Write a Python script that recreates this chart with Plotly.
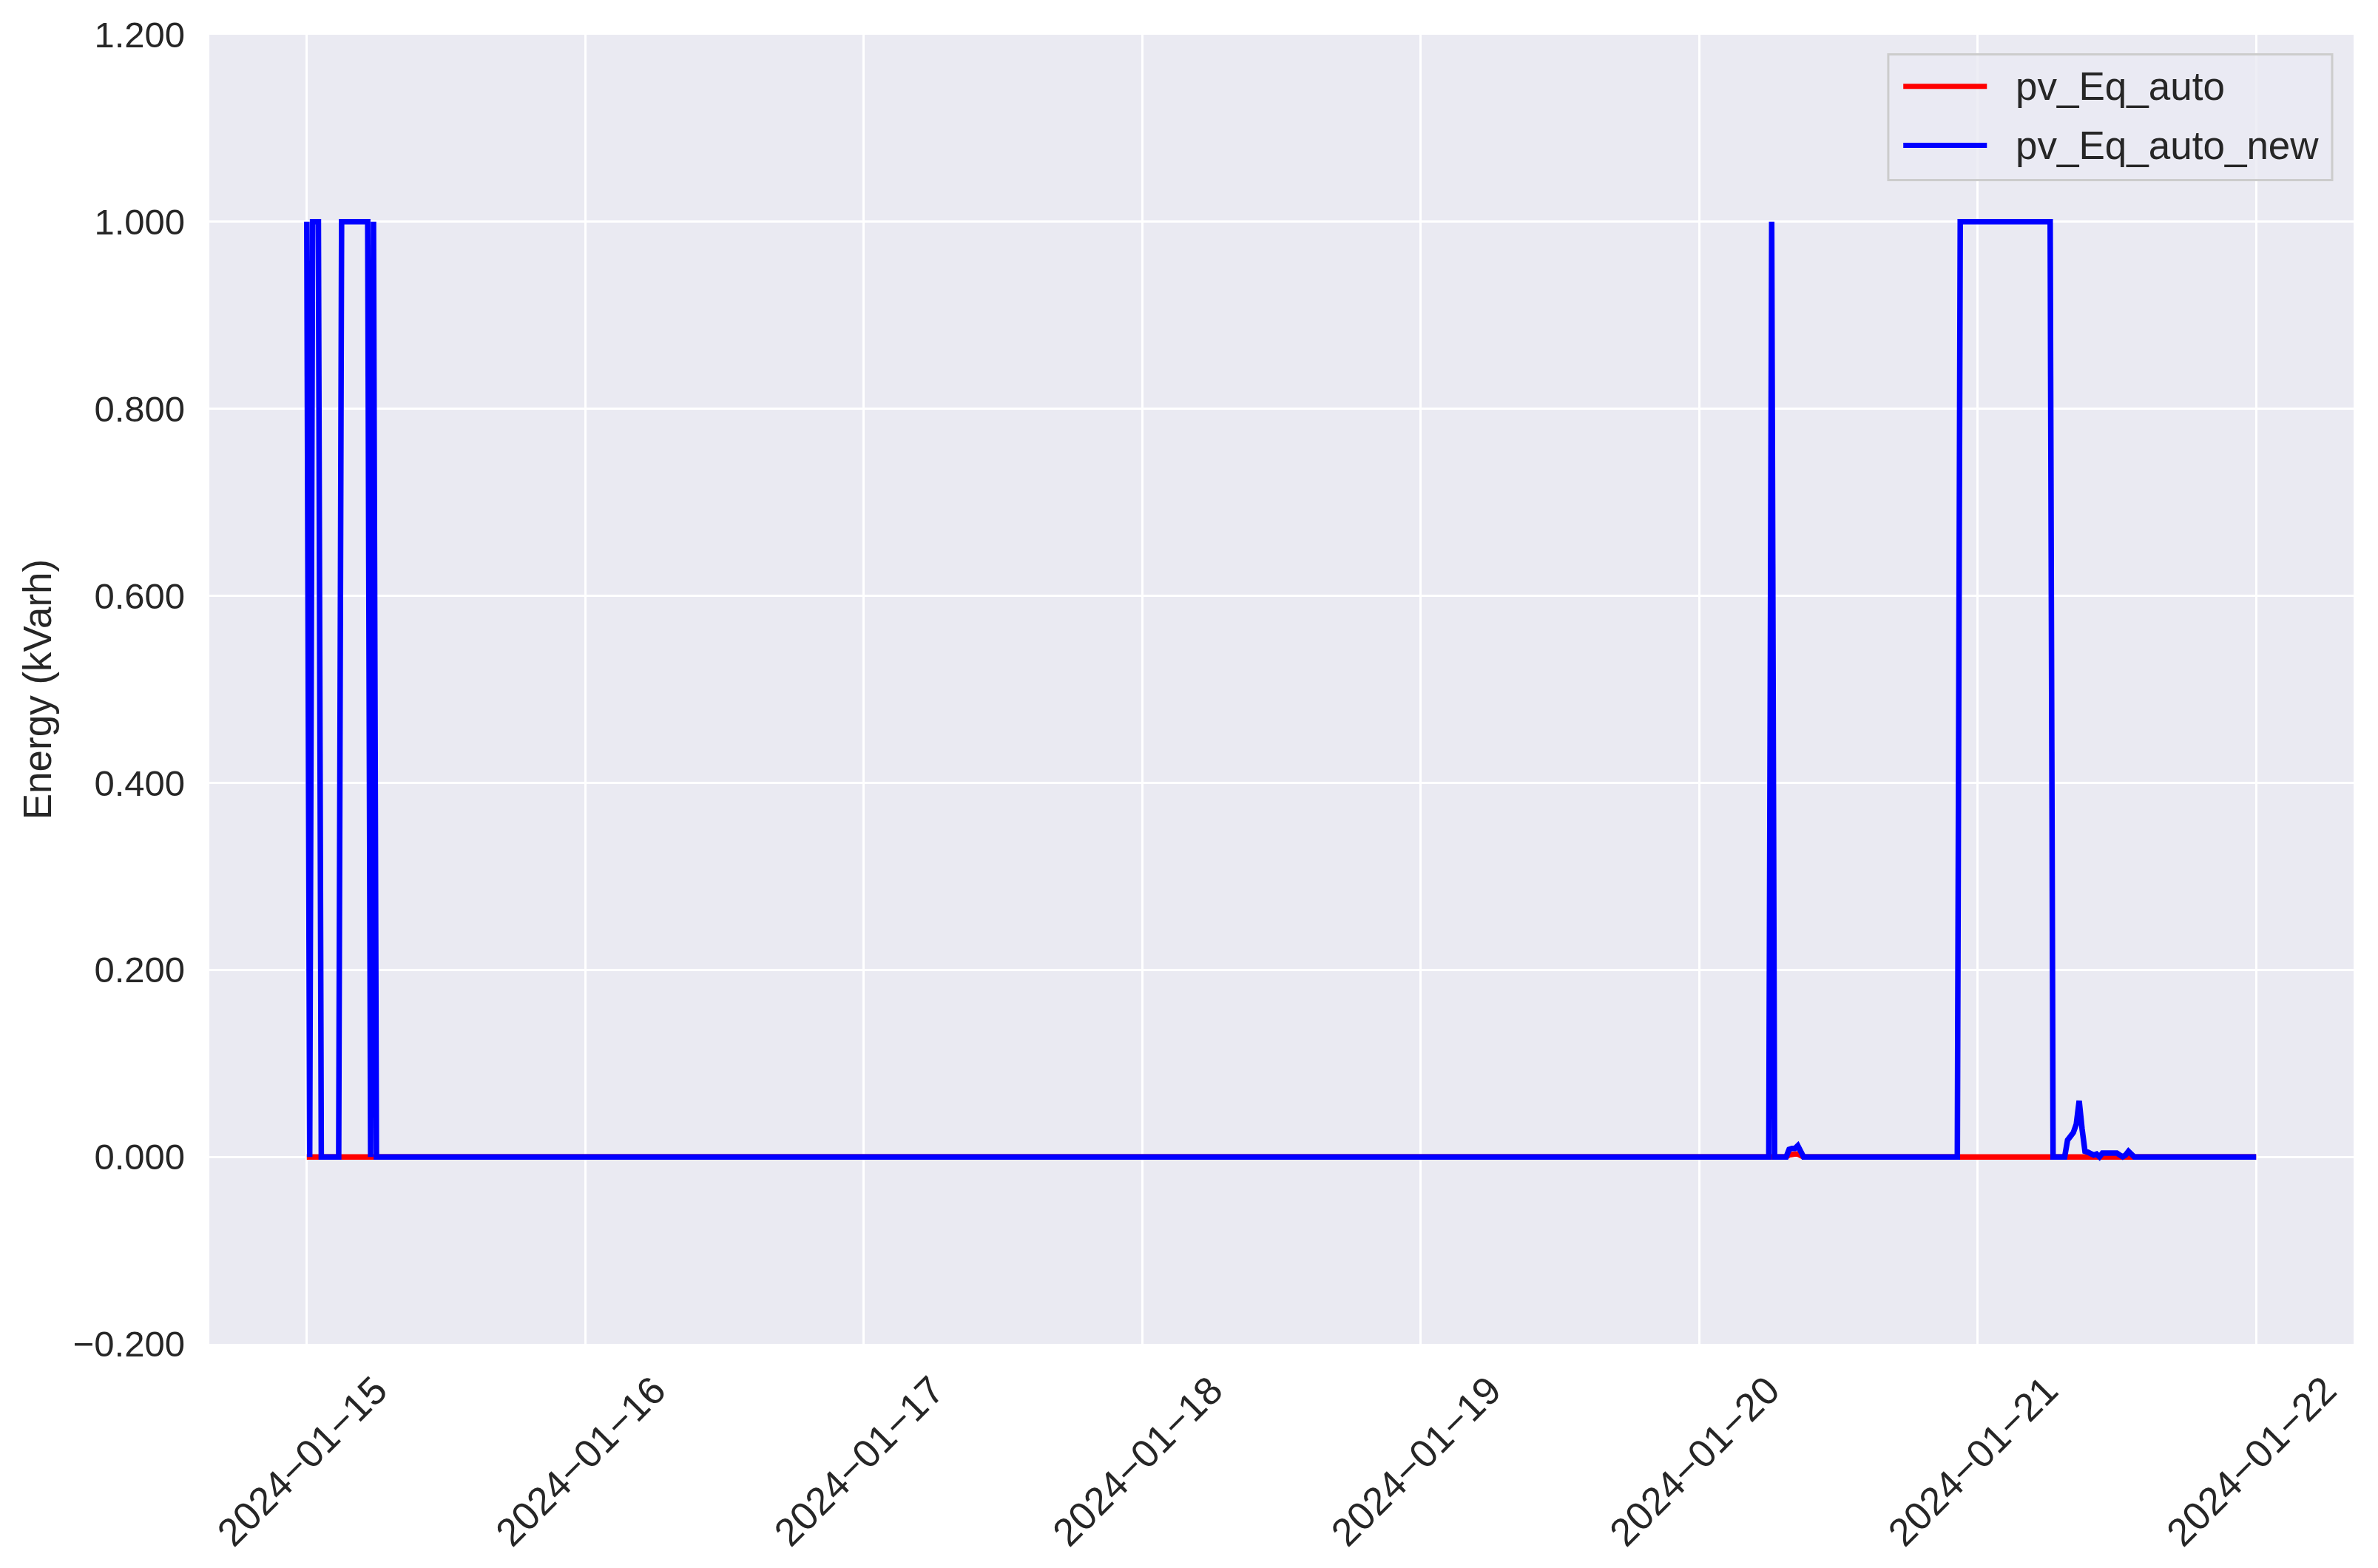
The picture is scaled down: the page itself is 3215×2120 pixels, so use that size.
'''
PV reactive energy plot: pv_Eq_auto vs pv_Eq_auto_new
'''
import plotly.graph_objects as go

'''----------------------------- Data ----------------------------'''

# blue series (pv_Eq_auto_new): breakpoints, linear between
new_times = [
    "2024-01-15 00:00", "2024-01-15 00:15", "2024-01-15 00:30", "2024-01-15 01:00",
    "2024-01-15 01:15", "2024-01-15 02:45", "2024-01-15 03:00", "2024-01-15 05:15",
    "2024-01-15 05:30", "2024-01-15 05:45", "2024-01-15 06:00",
    "2024-01-20 06:00", "2024-01-20 06:15", "2024-01-20 06:30", "2024-01-20 07:30",
    "2024-01-20 07:45", "2024-01-20 08:00", "2024-01-20 08:15", "2024-01-20 08:30",
    "2024-01-20 08:45", "2024-01-20 09:00",
    "2024-01-20 22:15", "2024-01-20 22:30", "2024-01-21 06:15", "2024-01-21 06:30",
    "2024-01-21 07:30", "2024-01-21 07:45", "2024-01-21 08:00", "2024-01-21 08:15",
    "2024-01-21 08:30", "2024-01-21 08:45", "2024-01-21 09:00", "2024-01-21 09:15",
    "2024-01-21 09:30", "2024-01-21 09:45", "2024-01-21 10:00", "2024-01-21 10:15",
    "2024-01-21 10:30", "2024-01-21 10:45", "2024-01-21 11:00", "2024-01-21 11:15",
    "2024-01-21 11:30", "2024-01-21 11:45", "2024-01-21 12:00", "2024-01-21 12:15",
    "2024-01-21 12:30", "2024-01-21 12:45", "2024-01-21 13:00", "2024-01-21 13:15",
    "2024-01-21 13:30",
    "2024-01-22 00:00",
]
new_vals = [
    1, 0, 1, 1,
    0, 0, 1, 1,
    0, 1, 0,
    0, 1, 0, 0,
    0.008, 0.009, 0.009, 0.012,
    0.004, 0,
    0, 1, 1, 0,
    0, 0.018, 0.022, 0.026,
    0.035, 0.060, 0.030, 0.006,
    0.005, 0.004, 0.002, 0.003,
    0.0, 0.004, 0.004, 0.004,
    0.005, 0.004, 0.004, 0.002,
    0.0, 0.002, 0.006, 0.003,
    0.0,
    0,
]

# red series (pv_Eq_auto)
auto_times = [
    "2024-01-15 00:00", "2024-01-20 07:30", "2024-01-20 07:45", "2024-01-20 08:00",
    "2024-01-20 08:15", "2024-01-20 08:30", "2024-01-20 08:45", "2024-01-20 09:00",
    "2024-01-22 00:00",
]
auto_vals = [0, 0, 0.002, 0.003, 0.003, 0.003, 0.001, 0, 0]

x_tickvals = ["2024-01-15", "2024-01-16", "2024-01-17", "2024-01-18",
              "2024-01-19", "2024-01-20", "2024-01-21", "2024-01-22"]
x_ticktext = [d.replace("-", "\u2212") for d in x_tickvals]
y_tickvals = [-0.2, 0.0, 0.2, 0.4, 0.6, 0.8, 1.0, 1.2]

series_names = ["pv_Eq_auto", "pv_Eq_auto_new"]
series_colors = ["#ff0000", "#0000ff"]

'''----------------------------- Figure ----------------------------'''

FONT = "Liberation Sans, Arial, sans-serif"
TEXT = "#262626"

fig = go.Figure()
for name, color, xs, ys in zip(series_names, series_colors,
                               [auto_times, new_times], [auto_vals, new_vals]):
    fig.add_trace(go.Scatter(x=xs, y=ys, mode="lines", name=name,
                             line=dict(color=color, width=7.5), showlegend=False))

# page body adds 8px, so the figure is 8px smaller each way
fig.update_layout(
    width=3207, height=2112,
    margin=dict(l=275, r=33, t=33, b=303),
    paper_bgcolor="white",
    plot_bgcolor="#eaeaf2",
    font=dict(family=FONT, color=TEXT, size=49),
)
fig.update_xaxes(
    range=["2024-01-14 15:36", "2024-01-22 08:24"],
    tickvals=x_tickvals, ticktext=x_ticktext,
    tickangle=-45, ticklabelshift=93, ticklabelstandoff=20,
    showgrid=True, gridcolor="white", gridwidth=3,
    zeroline=False, showline=False, ticks="",
    tickfont=dict(size=53),
)
fig.update_yaxes(
    range=[-0.2, 1.2], tickvals=y_tickvals, tickformat=".3f",
    showgrid=True, gridcolor="white", gridwidth=3,
    zeroline=False, showline=False, ticks="", ticklabelstandoff=32,
    tickfont=dict(size=49),
    title=dict(text="Energy (kVarh)", font=dict(size=53), standoff=12),
)

# legend box drawn like the matplotlib one
fig.add_shape(type="rect", xref="paper", yref="paper",
              x0=0.783, x1=0.990, y0=0.889, y1=0.985,
              fillcolor="rgba(234,234,242,0.8)", line=dict(color="#cccccc", width=3),
              layer="above")
for name, color, yy in zip(series_names, series_colors, [0.9606, 0.9155]):
    fig.add_shape(type="line", xref="paper", yref="paper",
                  x0=0.790, x1=0.829, y0=yy, y1=yy,
                  line=dict(color=color, width=7), layer="above")
    fig.add_annotation(x=0.8417, y=yy, xref="paper", yref="paper",
                       text=name, showarrow=False, xanchor="left", yanchor="middle",
                       font=dict(size=53, color=TEXT, family=FONT))

fig.write_html("out.html")
